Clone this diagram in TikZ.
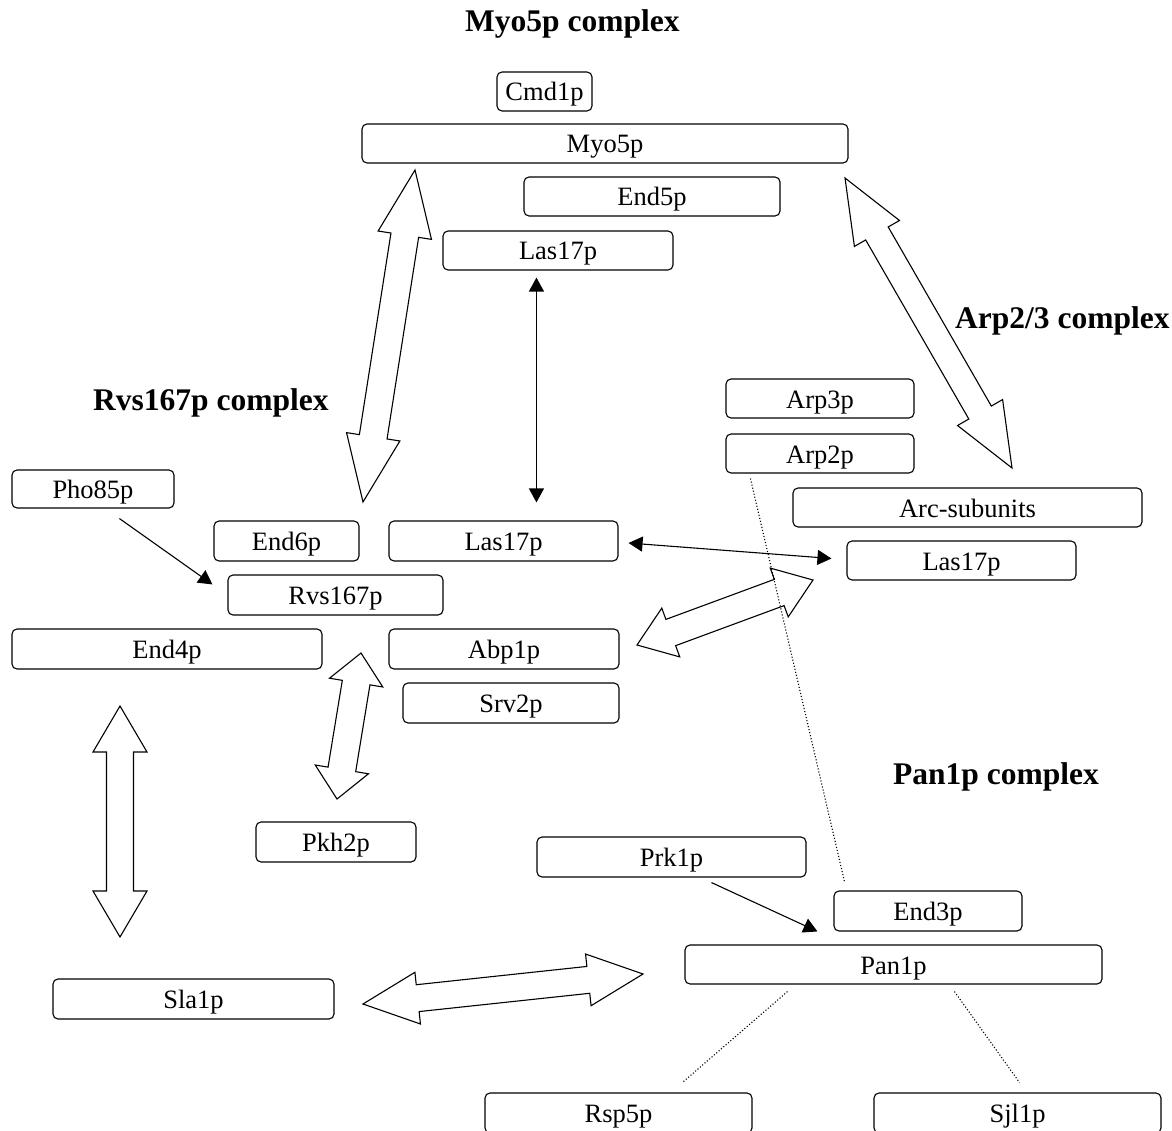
\documentclass[tikz,border=0pt]{standalone}
\usepackage{fontspec}
\setmainfont{Liberation Serif}
\usetikzlibrary{calc,arrows.meta}
\tikzset{
  box/.style={draw, rounded corners=5pt, line width=1.1pt, inner sep=0pt, minimum height=39pt,
    text height=22pt, text depth=3pt, font=\fontsize{26.5}{29}\selectfont},
  title/.style={anchor=base west, inner sep=0pt, font=\fontsize{31.5}{34}\selectfont\bfseries},
  arr/.style={line width=1.1pt, -{Triangle[length=14pt,width=15pt]}},
  darr/.style={line width=1.1pt, {Triangle[length=14pt,width=15pt]}-{Triangle[length=14pt,width=15pt]}},
  dotline/.style={line width=1.1pt, dotted},
  blockarr/.style={draw, fill=white, line width=1.1pt, line join=miter}
}
\newcommand\blockarrow[5]{%
  \coordinate (ba-a) at ($(#1)!#5!(#2)$);
  \coordinate (ba-b) at ($(#2)!#5!(#1)$);
  \draw[blockarr] (#1) -- ($(ba-a)!#4!90:(#2)$) -- ($(ba-a)!#3!90:(#2)$)
    -- ($(ba-b)!#3!-90:(#1)$) -- ($(ba-b)!#4!-90:(#1)$) -- (#2)
    -- ($(ba-b)!#4!90:(#1)$) -- ($(ba-b)!#3!90:(#1)$)
    -- ($(ba-a)!#3!-90:(#2)$) -- ($(ba-a)!#4!-90:(#2)$) -- cycle;
}
\begin{document}
\begin{tikzpicture}[x=1pt,y=-1pt]
\useasboundingbox[fill=white] (0,0) rectangle (1172,1131);

% titles
\node[title] (t1) at (465,32) {Myo5p complex};
\node[title] (t2) at (955,329) {Arp2/3 complex};
\node[title] (t3) at (93,410) {Rvs167p complex};
\node[title] (t4) at (893,784) {Pan1p complex};

% boxes
\node[box, minimum width=95pt] (cmd) at (544.5,91.5) {Cmd1p};
\node[box, minimum width=486pt] (myo) at (605,143.5) {Myo5p};
\node[box, minimum width=256pt] (end5) at (652,196.5) {End5p};
\node[box, minimum width=230pt] (lasA) at (558,250.5) {Las17p};
\node[box, minimum width=188pt] (arp3) at (820,398.5) {Arp3p};
\node[box, minimum width=188pt] (arp2) at (820,453.5) {Arp2p};
\node[box, minimum width=349pt] (arc) at (967.5,507.5) {Arc-subunits};
\node[box, minimum width=229pt] (lasC) at (961.5,560.5) {Las17p};
\node[box, minimum width=162pt, minimum height=38pt] (pho) at (93,489) {Pho85p};
\node[box, minimum width=145pt, minimum height=40pt] (end6) at (286.5,541) {End6p};
\node[box, minimum width=229pt, minimum height=40pt] (lasB) at (503.5,541) {Las17p};
\node[box, minimum width=215pt, minimum height=40pt] (rvs) at (335.5,595) {Rvs167p};
\node[box, minimum width=310pt, minimum height=40pt] (end4) at (167,649) {End4p};
\node[box, minimum width=230pt, minimum height=40pt] (abp) at (504,649) {Abp1p};
\node[box, minimum width=216pt, minimum height=40pt] (srv) at (511,703) {Srv2p};
\node[box, minimum width=160pt, minimum height=40pt] (pkh) at (336,842) {Pkh2p};
\node[box, minimum width=269pt, minimum height=40pt] (prk) at (671.5,857) {Prk1p};
\node[box, minimum width=188pt, minimum height=40pt] (end3) at (928,911) {End3p};
\node[box, minimum width=417pt] (pan) at (893.5,964.5) {Pan1p};
\node[box, minimum width=281pt, minimum height=40pt] (sla) at (193.5,999) {Sla1p};
\node[box, minimum width=267pt, minimum height=40pt] (rsp) at (618.5,1113) {Rsp5p};
\node[box, minimum width=287pt, minimum height=40pt] (sjl) at (1017.5,1113) {Sjl1p};

% block arrow tips
\coordinate (b1a) at (415,170);  \coordinate (b1b) at (363,502);
\coordinate (b2a) at (845,178);  \coordinate (b2b) at (1012,468);
\coordinate (b3a) at (637,645);  \coordinate (b3b) at (813,580);
\coordinate (b4a) at (361,653);  \coordinate (b4b) at (337,799);
\coordinate (b5a) at (120,706);  \coordinate (b5b) at (120,937);
\coordinate (b6a) at (363,1004); \coordinate (b6b) at (643,974);

\blockarrow{b1a}{b1b}{14pt}{27pt}{66pt}
\blockarrow{b2a}{b2b}{13pt}{26pt}{64pt}
\blockarrow{b3a}{b3b}{14pt}{26pt}{36pt}
\blockarrow{b4a}{b4b}{14pt}{27pt}{30pt}
\blockarrow{b5a}{b5b}{13.5pt}{27pt}{46pt}
\blockarrow{b6a}{b6b}{13.5pt}{26pt}{55pt}

% dotted connectors
\draw[dotline] ($(arp2.south west)+(25,5)$) -- ($(end3.north west)+(11,-9)$);
\draw[dotline] ($(pan.south west)+(103,7)$) -- ($(rsp.north west)+(198,-10)$);
\draw[dotline] ($(pan.south west)+(270,7)$) -- ($(sjl.north west)+(146,-10)$);

% line arrows
\draw[arr] ($(pho.south west)+(108,10)$) -- ($(rvs.north west)+(-15,10)$);
\draw[darr] ($(lasA.south west)+(94,7)$) -- ($(lasB.north west)+(148,-18)$);
\draw[darr] ($(lasB.east)+(10,2)$) -- ($(lasC.west)+(-15,-2)$);
\draw[arr] ($(prk.south west)+(175,5)$) -- ($(pan.north west)+(133,-13)$);
\end{tikzpicture}
\end{document}
